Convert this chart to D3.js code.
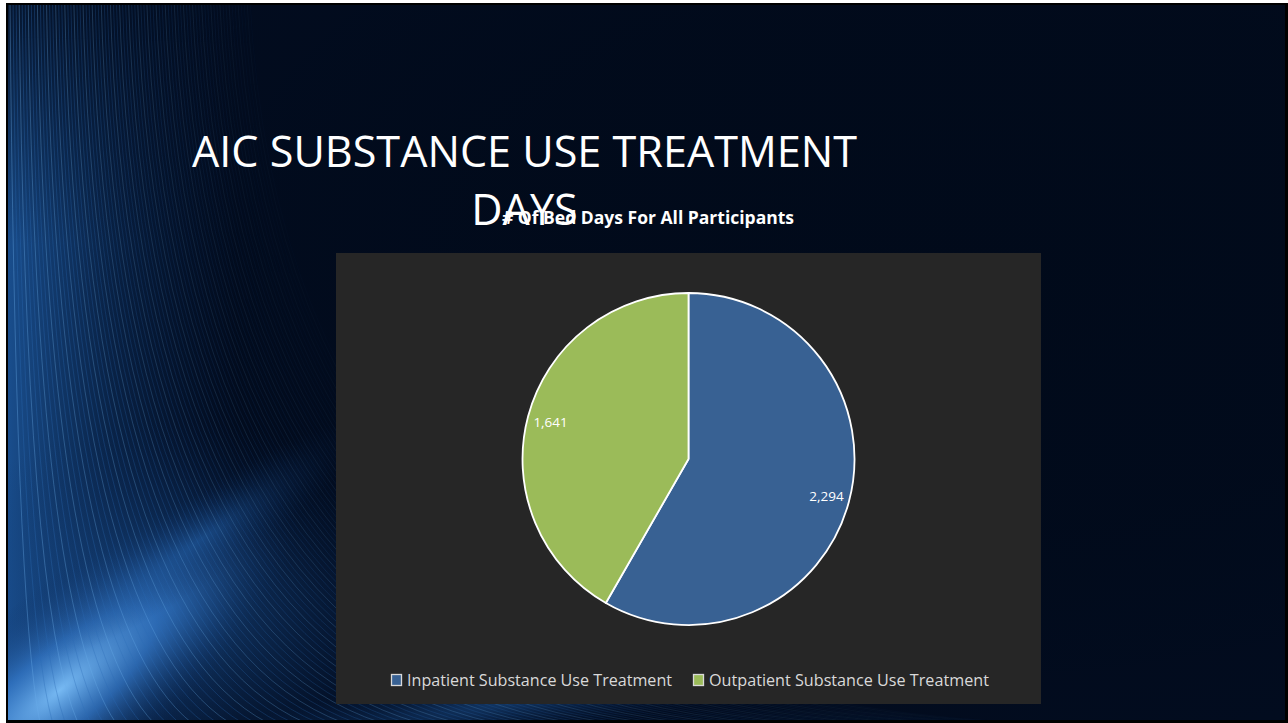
<!DOCTYPE html>
<html>
<head>
<meta charset="utf-8">
<script src="https://cdn.jsdelivr.net/npm/d3@7"></script>
<style>
html,body{margin:0;padding:0;background:#ffffff;overflow:hidden;}
svg{display:block;}
</style>
</head>
<body>
<svg id="chart" width="1288" height="723"></svg>
<script>
// ---- data ----
const categories = ["Inpatient Substance Use Treatment", "Outpatient Substance Use Treatment"];
const values = [2294, 1641];
const valueLabels = ["2,294", "1,641"];
const colors = ["#386193", "#9bbb59"];
const slideTitleLines = ["AIC SUBSTANCE USE TREATMENT", "DAYS"];
const chartTitle = "# Of Bed Days For All Participants";

const svg = d3.select("#chart");
const defs = svg.append("defs");

// ---- slide background ----
svg.append("rect").attr("x",6).attr("y",3).attr("width",1282).attr("height",720).attr("fill","#000000");
const clip = defs.append("clipPath").attr("id","slideClip");
clip.append("rect").attr("x",8).attr("y",5).attr("width",1277).attr("height",715);
const bg = svg.append("g").attr("clip-path","url(#slideClip)");
bg.append("rect").attr("x",8).attr("y",5).attr("width",1277).attr("height",715).attr("fill","#020c1f");

// glow gradients
const g1 = defs.append("radialGradient").attr("id","glow1").attr("cx","0.5").attr("cy","0.5").attr("r","0.5");
g1.append("stop").attr("offset","0%").attr("stop-color","#7cc0fa").attr("stop-opacity",0.95);
g1.append("stop").attr("offset","40%").attr("stop-color","#3a82d6").attr("stop-opacity",0.65);
g1.append("stop").attr("offset","100%").attr("stop-color","#0a2a5a").attr("stop-opacity",0);
const g2 = defs.append("radialGradient").attr("id","glow2").attr("cx","0.5").attr("cy","0.5").attr("r","0.5");
g2.append("stop").attr("offset","0%").attr("stop-color","#2466b3").attr("stop-opacity",0.6);
g2.append("stop").attr("offset","100%").attr("stop-color","#0a2a5a").attr("stop-opacity",0);
const g3 = defs.append("linearGradient").attr("id","leftBand").attr("x1","0").attr("y1","0").attr("x2","1").attr("y2","0");
g3.append("stop").attr("offset","0%").attr("stop-color","#1f5ea8").attr("stop-opacity",0.8);
g3.append("stop").attr("offset","45%").attr("stop-color","#123f78").attr("stop-opacity",0.45);
g3.append("stop").attr("offset","100%").attr("stop-color","#0a2a5a").attr("stop-opacity",0);
const g4 = defs.append("linearGradient").attr("id","leftFade").attr("x1","0").attr("y1","0").attr("x2","0").attr("y2","1");
g4.append("stop").attr("offset","0%").attr("stop-color","#020c1f").attr("stop-opacity",0.85);
g4.append("stop").attr("offset","60%").attr("stop-color","#020c1f").attr("stop-opacity",0);

bg.append("rect").attr("x",8).attr("y",5).attr("width",230).attr("height",715).attr("fill","url(#leftBand)");
bg.append("rect").attr("x",8).attr("y",5).attr("width",240).attr("height",400).attr("fill","url(#leftFade)");
bg.append("ellipse").attr("cx",170).attr("cy",610).attr("rx",260).attr("ry",190)
  .attr("fill","url(#glow2)");
bg.append("ellipse").attr("cx",0).attr("cy",0).attr("rx",300).attr("ry",95)
  .attr("transform","translate(60,690) rotate(-40)").attr("fill","url(#glow1)");
bg.append("ellipse").attr("cx",0).attr("cy",0).attr("rx",200).attr("ry",40)
  .attr("transform","translate(200,540) rotate(-35)").attr("fill","url(#glow2)").attr("opacity",0.7);
bg.append("ellipse").attr("cx",0).attr("cy",0).attr("rx",420).attr("ry",40)
  .attr("transform","translate(520,700) rotate(-10)").attr("fill","url(#glow2)").attr("opacity",0.8);

// decorative streak curves
const streaks = bg.append("g").attr("fill","none");
for (let i = 0; i < 80; i++) {
  const f = i / 79;
  const xTop = 10 + f * 240;
  const xEnd = 40 + f * 1000;
  const d = `M${xTop},0 Q${xTop + 5 + f*30},${600 + f*100} ${xEnd},723`;
  const op = (1 - f) * 0.4 + 0.05;
  streaks.append("path").attr("d", d)
    .attr("stroke", i % 3 === 0 ? "#6aaeea" : "#2b6bb5")
    .attr("stroke-width", 0.8)
    .attr("opacity", op);
}
// dark vignette for right / upper areas
const vg = defs.append("radialGradient").attr("id","vig").attr("cx","0.75").attr("cy","0.35").attr("r","0.7");
vg.append("stop").attr("offset","0%").attr("stop-color","#010a1a").attr("stop-opacity",0.95);
vg.append("stop").attr("offset","55%").attr("stop-color","#010a1a").attr("stop-opacity",0.7);
vg.append("stop").attr("offset","100%").attr("stop-color","#010a1a").attr("stop-opacity",0);
bg.append("rect").attr("x",8).attr("y",5).attr("width",1277).attr("height",715).attr("fill","url(#vig)");

// helper: fit text to width
function fitWidth(sel, target) {
  const node = sel.node();
  const fs = parseFloat(sel.attr("font-size"));
  const w = node.getComputedTextLength();
  if (w > 0) sel.attr("font-size", (fs * target / w).toFixed(2));
  return sel;
}

// ---- slide title ----
const titleG = svg.append("g").attr("fill","#ffffff").attr("font-family","'Open Sans', sans-serif");
const t1 = titleG.append("text").attr("x",524.5).attr("y",167).attr("text-anchor","middle")
  .attr("font-size",40).text(slideTitleLines[0]);
fitWidth(t1, 665);
const titleFs = t1.attr("font-size");
titleG.append("text").attr("x",524.5).attr("y",225).attr("text-anchor","middle")
  .attr("font-size",titleFs).text(slideTitleLines[1]);

// ---- chart area ----
const chartX = 336, chartY = 253, chartW = 705, chartH = 451;
svg.append("rect").attr("x",chartX).attr("y",chartY).attr("width",chartW).attr("height",chartH).attr("fill","#262626");

// chart title (overlaps the slide title's second line, as in the reference)
const ct = svg.append("text").attr("x",502).attr("y",224)
  .attr("font-family","'Open Sans', sans-serif").attr("font-weight",700)
  .attr("font-size",15).attr("fill","#ffffff").text(chartTitle);
fitWidth(ct, 292);

// ---- pie ----
const cx = 688.5, cy = 459, R = 166;
const pie = d3.pie().sort(null).value(d => d.value);
const data = categories.map((c, i) => ({cat: c, value: values[i], label: valueLabels[i], color: colors[i]}));
const arcs = pie(data);
const arc = d3.arc().innerRadius(0).outerRadius(R);
const labelArc = d3.arc().innerRadius(R * 0.86).outerRadius(R * 0.86);
const pg = svg.append("g").attr("transform",`translate(${cx},${cy})`);
pg.selectAll("path.slice").data(arcs).join("path").attr("class","slice")
  .attr("d", arc).attr("fill", d => d.data.color)
  .attr("stroke","#ffffff").attr("stroke-width",1.8).attr("stroke-linejoin","round");
pg.selectAll("text.lbl").data(arcs).join("text").attr("class","lbl")
  .attr("transform", d => `translate(${labelArc.centroid(d)})`)
  .attr("text-anchor","middle").attr("dy","0.35em")
  .attr("font-family","'Open Sans', sans-serif").attr("font-size",13.5)
  .attr("fill","#ffffff").text(d => d.data.label);

// ---- legend ----
const legendX = [391, 693];
const legendTextW = [265, 280];
const lg = svg.append("g");
data.forEach((d, i) => {
  lg.append("rect").attr("x", legendX[i] + 0.5).attr("y", 674.5).attr("width", 10).attr("height", 11)
    .attr("fill", d.color).attr("stroke","#d9d9d9").attr("stroke-width",1.3);
  const t = lg.append("text").attr("x", legendX[i] + 16).attr("y", 686)
    .attr("font-family","'Open Sans', sans-serif").attr("font-size",16)
    .attr("fill","#d9d9d9").text(d.cat);
  fitWidth(t, legendTextW[i]);
});
</script>
</body>
</html>
